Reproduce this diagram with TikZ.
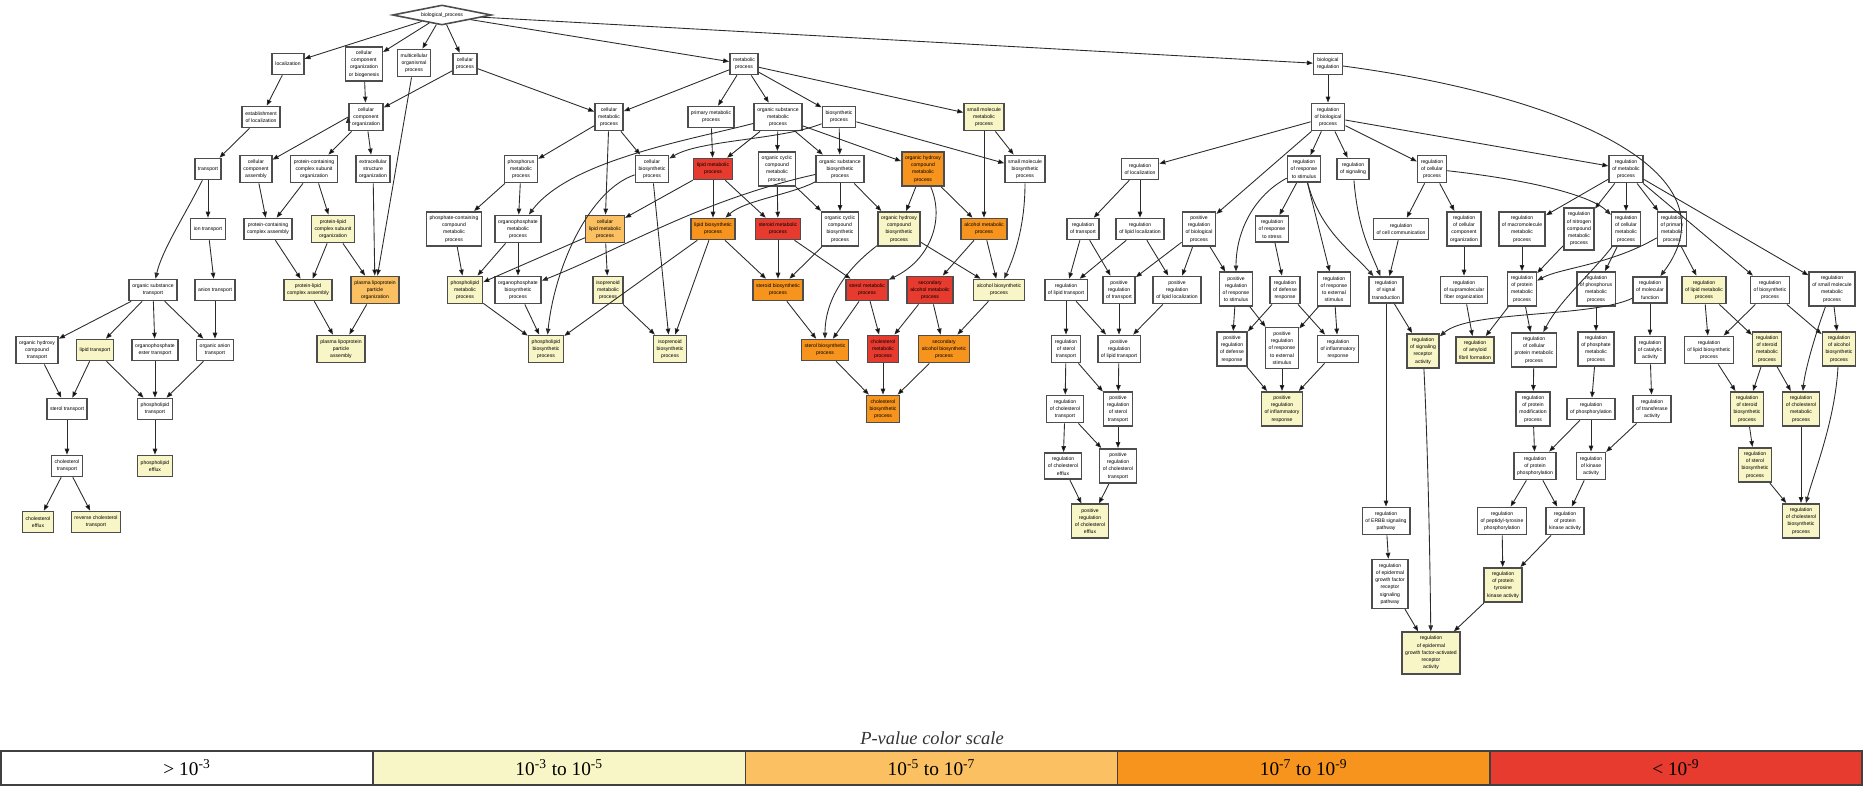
\documentclass[tikz,border=0pt]{standalone}
\usepackage{fontspec}
\usepackage{tikz}
\usetikzlibrary{arrows.meta, shapes.geometric}
\newfontfamily\gofont{Liberation Sans}
\newfontfamily\legfont{Liberation Serif}
\definecolor{boxline}{HTML}{4D4D4D}
\definecolor{arcline}{HTML}{2B2B2B}
\definecolor{cthree}{HTML}{F8F5C6}
\definecolor{cfive}{HTML}{FBC062}
\definecolor{cseven}{HTML}{F7941E}
\definecolor{cnine}{HTML}{E63B2E}

\begin{document}
\begin{tikzpicture}[x=0.02cm, y=-0.02cm, >={Triangle[length=3.4pt, width=2.6pt]},
  goterm/.style={draw=boxline, line width=0.9pt, fill=white, align=center, font=\gofont\fontsize{2.9}{4.1}\selectfont, inner xsep=1.8pt, inner ysep=2.3pt, minimum height=0.42cm},
  rootterm/.style={goterm, diamond, aspect=5, inner sep=0pt, minimum width=1.98cm, minimum height=0.4cm},
  pthree/.style={goterm, fill=cthree},
  pfive/.style={goterm, fill=cfive},
  pseven/.style={goterm, fill=cseven},
  pnine/.style={goterm, fill=cnine},
  isa/.style={->, draw=arcline, line width=0.5pt},
  legcell/.style={draw=black!75, line width=0.8pt, inner sep=0pt, minimum width=7.444cm, minimum height=0.68cm, font=\legfont\fontsize{11}{13}\selectfont}]
  \useasboundingbox (0,0) rectangle (1863,787);

  \node[rootterm] (bp) at (442,15) {biological\_process};

  \node[goterm] (loc) at (288,64) {localization};
  \node[goterm] (ccob) at (364,64) {cellular\\component\\organization\\or biogenesis};
  \node[goterm] (mop) at (414,63) {multicellular\\organismal\\process};
  \node[goterm] (cp) at (465,64) {cellular\\process};
  \node[goterm] (estloc) at (261,117) {establishment\\of localization};
  \node[goterm] (cco) at (366,117) {cellular\\component\\organization};
  \node[goterm] (transp) at (208,169) {transport};
  \node[goterm] (cca) at (256,169) {cellular\\component\\assembly};
  \node[goterm] (pcso) at (314,169) {protein-containing\\complex subunit\\organization};
  \node[goterm] (eso) at (373,169) {extracellular\\structure\\organization};
  \node[goterm] (iont) at (208,229) {ion transport};
  \node[goterm] (pcca) at (268,229) {protein-containing\\complex assembly};
  \node[pthree] (plcso) at (333,229) {protein-lipid\\complex subunit\\organization};
  \node[goterm] (ost) at (153,290) {organic substance\\transport};
  \node[goterm] (aniont) at (215,290) {anion transport};
  \node[pthree] (plca) at (308,290) {protein-lipid\\complex assembly};
  \node[pfive] (plpo) at (375,290) {plasma lipoprotein\\particle\\organization};
  \node[goterm] (ohct) at (37,350) {organic hydroxy\\compound\\transport};
  \node[pthree] (lipt) at (95,350) {lipid transport};
  \node[goterm] (opet) at (155,350) {organophosphate\\ester transport};
  \node[goterm] (oat) at (215,350) {organic anion\\transport};
  \node[pthree] (plpa) at (341,349) {plasma lipoprotein\\particle\\assembly};
  \node[goterm] (stt) at (67,409) {sterol transport};
  \node[goterm] (plt) at (155,409) {phospholipid\\transport};
  \node[goterm] (cht) at (67,466) {cholesterol\\transport};
  \node[pthree] (ple) at (155,466) {phospholipid\\efflux};
  \node[pthree] (che) at (38,522) {cholesterol\\efflux};
  \node[pthree] (rct) at (96,522) {reverse cholesterol\\transport};

  \node[goterm] (cmp) at (609,117) {cellular\\metabolic\\process};
  \node[goterm] (phmp) at (521,169) {phosphorus\\metabolic\\process};
  \node[goterm] (pccmp) at (454,229) {phosphate-containing\\compound\\metabolic\\process};
  \node[goterm] (opmp) at (518,229) {organophosphate\\metabolic\\process};
  \node[pfive] (clmp) at (605,229) {cellular\\lipid metabolic\\process};
  \node[pthree] (plmp) at (465,290) {phospholipid\\metabolic\\process};
  \node[goterm] (opbp) at (518,290) {organophosphate\\biosynthetic\\process};
  \node[pthree] (ismp) at (608,290) {isoprenoid\\metabolic\\process};
  \node[pthree] (plbp) at (546,349) {phospholipid\\biosynthetic\\process};
  \node[goterm] (mp) at (744,64) {metabolic\\process};
  \node[goterm] (pmp) at (711,117) {primary metabolic\\process};
  \node[goterm] (osmp) at (778,117) {organic substance\\metabolic\\process};
  \node[goterm] (bsp) at (839,117) {biosynthetic\\process};
  \node[goterm] (cbp) at (652,169) {cellular\\biosynthetic\\process};
  \node[pnine] (lmp) at (713,169) {lipid metabolic\\process};
  \node[goterm] (occmp) at (777,169) {organic cyclic\\compound\\metabolic\\process};
  \node[goterm] (osbp) at (840,169) {organic substance\\biosynthetic\\process};
  \node[pseven] (ohcmp) at (923,169) {organic hydroxy\\compound\\metabolic\\process};
  \node[pseven] (lbp) at (713,229) {lipid biosynthetic\\process};
  \node[pnine] (stmp) at (778,229) {steroid metabolic\\process};
  \node[goterm] (occbp) at (840,229) {organic cyclic\\compound\\biosynthetic\\process};
  \node[pthree] (ohcbp) at (899,229) {organic hydroxy\\compound\\biosynthetic\\process};
  \node[pseven] (stbp) at (778,290) {steroid biosynthetic\\process};
  \node[pnine] (slmp) at (867,290) {sterol metabolic\\process};
  \node[pnine] (samp) at (930,290) {secondary\\alcohol metabolic\\process};
  \node[pthree] (isbp) at (670,349) {isoprenoid\\biosynthetic\\process};
  \node[pseven] (slbp) at (825,350) {sterol biosynthetic\\process};
  \node[pnine] (chmp) at (883,349) {cholesterol\\metabolic\\process};
  \node[pseven] (sabp) at (944,349) {secondary\\alcohol biosynthetic\\process};
  \node[pseven] (chbp) at (883,409) {cholesterol\\biosynthetic\\process};
  \node[pthree] (smmp) at (984,117) {small molecule\\metabolic\\process};
  \node[goterm] (smbp) at (1025,169) {small molecule\\biosynthetic\\process};
  \node[pseven] (amp) at (984,229) {alcohol metabolic\\process};
  \node[pthree] (abp) at (999,290) {alcohol biosynthetic\\process};

  \node[goterm] (br) at (1328,64) {biological\\regulation};
  \node[goterm] (rbp) at (1328,117) {regulation\\of biological\\process};
  \node[goterm] (rloc) at (1140,169) {regulation\\of localization};
  \node[goterm] (rtr) at (1083,229) {regulation\\of transport};
  \node[goterm] (rlloc) at (1140,229) {regulation\\of lipid localization};
  \node[goterm] (prbp) at (1199,229) {positive\\regulation\\of biological\\process};
  \node[goterm] (rlt) at (1066,290) {regulation\\of lipid transport};
  \node[goterm] (prt) at (1119,290) {positive\\regulation\\of transport};
  \node[goterm] (prlloc) at (1177,290) {positive\\regulation\\of lipid localization};
  \node[goterm] (prrs) at (1236,289) {positive\\regulation\\of response\\to stimulus};
  \node[goterm] (rstt) at (1066,349) {regulation\\of sterol\\transport};
  \node[goterm] (prlt) at (1119,349) {positive\\regulation\\of lipid transport};
  \node[goterm] (prdr) at (1232,349) {positive\\regulation\\of defense\\response};
  \node[goterm] (rcht) at (1065,409) {regulation\\of cholesterol\\transport};
  \node[goterm] (prstt) at (1118,409) {positive\\regulation\\of sterol\\transport};
  \node[goterm] (rche) at (1063,466) {regulation\\of cholesterol\\efflux};
  \node[goterm] (prcht) at (1118,466) {positive\\regulation\\of cholesterol\\transport};
  \node[pthree] (prche) at (1090,521) {positive\\regulation\\of cholesterol\\efflux};
  \node[goterm] (rrs) at (1304,169) {regulation\\of response\\to stimulus};
  \node[goterm] (rsig) at (1353,169) {regulation\\of signaling};
  \node[goterm] (rcp) at (1432,169) {regulation\\of cellular\\process};
  \node[goterm] (rmp) at (1626,169) {regulation\\of metabolic\\process};
  \node[goterm] (rrstress) at (1272,229) {regulation\\of response\\to stress};
  \node[goterm] (rcc) at (1401,229) {regulation\\of cell communication};
  \node[goterm] (rcco) at (1464,229) {regulation\\of cellular\\component\\organization};
  \node[goterm] (rmmp) at (1522,229) {regulation\\of macromolecule\\metabolic\\process};
  \node[goterm] (rncmp) at (1579,229) {regulation\\of nitrogen\\compound\\metabolic\\process};
  \node[goterm] (rcmp) at (1626,229) {regulation\\of cellular\\metabolic\\process};
  \node[goterm] (rpmp) at (1672,229) {regulation\\of primary\\metabolic\\process};
  \node[goterm] (rdr) at (1285,290) {regulation\\of defense\\response};
  \node[goterm] (rres) at (1334,289) {regulation\\of response\\to external\\stimulus};
  \node[goterm] (rst) at (1386,290) {regulation\\of signal\\transduction};
  \node[goterm] (rsfo) at (1464,290) {regulation\\of supramolecular\\fiber organization};
  \node[goterm] (rprmp) at (1522,289) {regulation\\of protein\\metabolic\\process};
  \node[goterm] (rphmp) at (1596,289) {regulation\\of phosphorus\\metabolic\\process};
  \node[goterm] (rmf) at (1650,290) {regulation\\of molecular\\function};
  \node[pthree] (rlmp) at (1704,290) {regulation\\of lipid metabolic\\process};
  \node[goterm] (rbsp) at (1770,290) {regulation\\of biosynthetic\\process};
  \node[goterm] (rsmmp) at (1832,289) {regulation\\of small molecule\\metabolic\\process};
  \node[goterm] (prres) at (1282,348) {positive\\regulation\\of response\\to external\\stimulus};
  \node[goterm] (rir) at (1338,349) {regulation\\of inflammatory\\response};
  \node[pthree] (rsra) at (1423,351) {regulation\\of signaling\\receptor\\activity};
  \node[pthree] (raff) at (1475,350) {regulation\\of amyloid\\fibril formation};
  \node[goterm] (rcpmp) at (1534,350) {regulation\\of cellular\\protein metabolic\\process};
  \node[goterm] (rphtmp) at (1596,349) {regulation\\of phosphate\\metabolic\\process};
  \node[goterm] (rca) at (1650,350) {regulation\\of catalytic\\activity};
  \node[goterm] (rlbp) at (1709,350) {regulation\\of lipid biosynthetic\\process};
  \node[pthree] (rsmp) at (1767,349) {regulation\\of steroid\\metabolic\\process};
  \node[pthree] (rabp) at (1839,349) {regulation\\of alcohol\\biosynthetic\\process};
  \node[pthree] (prir) at (1282,409) {positive\\regulation\\of inflammatory\\response};
  \node[goterm] (rpmod) at (1533,409) {regulation\\of protein\\modification\\process};
  \node[goterm] (rphos) at (1591,409) {regulation\\of phosphorylation};
  \node[goterm] (rta) at (1652,409) {regulation\\of transferase\\activity};
  \node[pthree] (rsbp) at (1747,409) {regulation\\of steroid\\biosynthetic\\process};
  \node[pthree] (rchmp) at (1801,409) {regulation\\of cholesterol\\metabolic\\process};
  \node[goterm] (rpphos) at (1535,466) {regulation\\of protein\\phosphorylation};
  \node[goterm] (rka) at (1591,466) {regulation\\of kinase\\activity};
  \node[pthree] (rslbp) at (1755,465) {regulation\\of sterol\\biosynthetic\\process};
  \node[goterm] (rerbb) at (1386,521) {regulation\\of ERBB signaling\\pathway};
  \node[goterm] (rptp) at (1502,521) {regulation\\of peptidyl-tyrosine\\phosphorylation};
  \node[goterm] (rpka) at (1565,521) {regulation\\of protein\\kinase activity};
  \node[pthree] (rchbp) at (1801,521) {regulation\\of cholesterol\\biosynthetic\\process};
  \node[goterm] (regfr) at (1390,584) {regulation\\of epidermal\\growth factor\\receptor\\signaling\\pathway};
  \node[pthree] (rptka) at (1503,585) {regulation\\of protein\\tyrosine\\kinase activity};
  \node[pthree] (regfa) at (1431,653) {regulation\\of epidermal\\growth factor-activated\\receptor\\activity};

  \draw[isa] (bp) edge (loc) edge (ccob) edge (mop) edge (cp) edge (mp) edge (br);
  \draw[isa] (loc) edge (estloc);
  \draw[isa] (estloc) edge (transp);
  \draw[isa] (transp) edge (iont);
  \draw[isa] (transp) .. controls (185,215) and (162,250) .. (ost);
  \draw[isa] (iont) edge (aniont);
  \draw[isa] (ost) edge (ohct) edge (lipt) edge (opet) edge (oat);
  \draw[isa] (aniont) edge (oat);
  \draw[isa] (ohct) edge (stt);
  \draw[isa] (lipt) edge (stt) edge (plt);
  \draw[isa] (opet) edge (plt);
  \draw[isa] (oat) edge (plt);
  \draw[isa] (stt) edge (cht);
  \draw[isa] (plt) edge (ple);
  \draw[isa] (cht) edge (che) edge (rct);
  \draw[isa] (ccob) edge (cco);
  \draw[isa] (cp) edge (cco) edge (cmp);
  \draw[isa] (cco.west) edge (cca);
  \draw[isa] (cco) edge (pcso) edge (eso);
  \draw[isa] (cca) edge (pcca);
  \draw[isa] (pcso) edge (pcca) edge (plcso);
  \draw[isa] (pcca) edge (plca);
  \draw[isa] (plcso) edge (plca) edge (plpo);
  \draw[isa] (eso) edge (plpo);
  \draw[isa] (mop) edge (plpo);
  \draw[isa] (plca) edge (plpa);
  \draw[isa] (plpo) edge (plpa);

  \draw[isa] (mp) edge (cmp) edge (pmp) edge (osmp) edge (bsp) edge (smmp);
  \draw[isa] (cmp) edge (phmp) edge (clmp) edge (cbp);
  \draw[isa] (phmp) edge (pccmp) edge (opmp);
  \draw[isa] (pccmp) edge (plmp);
  \draw[isa] (opmp) edge (plmp) edge (opbp);
  \draw[isa] (clmp) edge (plmp) edge (ismp);
  \draw[isa] (plmp) edge (plbp);
  \draw[isa] (opbp) edge (plbp);
  \draw[isa] (ismp) edge (isbp);
  \draw[isa] (osmp) .. controls (690,140) and (570,160) .. (opmp);
  \draw[isa] (osbp) .. controls (700,200) and (620,250) .. (opbp);
  \draw[isa] (cbp) .. controls (590,190) and (555,265) .. (plbp);
  \draw[isa] (lbp) edge (plbp) edge (isbp);
  \draw[isa] (cbp) edge (isbp);
  \draw[isa] (pmp) edge (lmp);
  \draw[isa] (osmp) edge (lmp) edge (occmp) edge (osbp) edge (ohcmp);
  \draw[isa] (bsp) edge (osbp) edge (smbp);
  \draw[isa] (bsp) .. controls (780,140) and (700,140) .. (cbp);
  \draw[isa] (lmp) edge (clmp) edge (lbp) edge (stmp);
  \draw[isa] (occmp) edge (stmp) edge (occbp);
  \draw[isa] (osbp) .. controls (790,195) and (745,200) .. (lbp);
  \draw[isa] (osbp) edge (occbp) edge (ohcbp);
  \draw[isa] (ohcmp) edge (ohcbp) edge (amp);
  \draw[isa] (ohcmp) .. controls (945,220) and (930,260) .. (slmp);
  \draw[isa] (lbp) edge (stbp);
  \draw[isa] (stmp) edge (stbp) edge (slmp);
  \draw[isa] (occbp) edge (stbp);
  \draw[isa] (ohcbp) .. controls (845,270) and (825,300) .. (slbp);
  \draw[isa] (ohcbp) edge (abp);
  \draw[isa] (stbp) edge (slbp);
  \draw[isa] (slmp) edge (slbp) edge (chmp);
  \draw[isa] (samp) edge (chmp) edge (sabp);
  \draw[isa] (amp) edge (samp) edge (abp);
  \draw[isa] (smmp) edge (smbp) edge (amp);
  \draw[isa] (smbp) .. controls (1025,225) and (1015,255) .. (abp);
  \draw[isa] (abp) edge (sabp);
  \draw[isa] (slbp) edge (chbp);
  \draw[isa] (chmp) edge (chbp);
  \draw[isa] (sabp) edge (chbp);

  \draw[isa] (br) edge (rbp);
  \draw[isa] (br) .. controls (1560,95) and (1740,170) .. (rmf);
  \draw[isa] (rbp) edge (rloc) edge (prbp) edge (rrs) edge (rsig) edge (rcp) edge (rmp);
  \draw[isa] (rloc) edge (rtr) edge (rlloc);
  \draw[isa] (rtr) edge (rlt) edge (prt);
  \draw[isa] (rlloc) edge (rlt) edge (prlloc);
  \draw[isa] (prbp) edge (prt) edge (prlloc) edge (prrs);
  \draw[isa] (rrs) .. controls (1255,195) and (1236,230) .. (prrs);
  \draw[isa] (rrs) edge (rrstress) edge (rres);
  \draw[isa] (rrs) .. controls (1320,230) and (1350,250) .. (rst);
  \draw[isa] (rlt) edge (rstt) edge (prlt);
  \draw[isa] (prt) edge (prlt);
  \draw[isa] (prlloc) edge (prlt);
  \draw[isa] (rstt) edge (rcht) edge (prstt);
  \draw[isa] (prlt) edge (prstt);
  \draw[isa] (rcht) edge (rche) edge (prcht);
  \draw[isa] (prstt) edge (prcht);
  \draw[isa] (rche) edge (prche);
  \draw[isa] (prcht) edge (prche);
  \draw[isa] (prrs) edge (prdr) edge (prres);
  \draw[isa] (rrstress) edge (rdr);
  \draw[isa] (rdr) edge (prdr) edge (rir);
  \draw[isa] (rres) edge (prres) edge (rir);
  \draw[isa] (prdr) edge (prir);
  \draw[isa] (prres) edge (prir);
  \draw[isa] (rir) edge (prir);
  \draw[isa] (rsig) .. controls (1358,230) and (1370,250) .. (rst);
  \draw[isa] (rcp) edge (rcc) edge (rcco);
  \draw[isa] (rcp) .. controls (1530,180) and (1590,195) .. (rcmp);
  \draw[isa] (rcc) edge (rst);
  \draw[isa] (rst) edge (rsra) edge (rerbb);
  \draw[isa] (rcco) edge (rsfo);
  \draw[isa] (rsfo) edge (raff);
  \draw[isa] (rmp) edge (rmmp) edge (rncmp) edge (rcmp) edge (rpmp) edge (rbsp) edge (rsmmp);
  \draw[isa] (rmmp) edge (rprmp);
  \draw[isa] (rncmp) edge (rprmp);
  \draw[isa] (rpmp) .. controls (1610,265) and (1560,268) .. (rprmp);
  \draw[isa] (rpmp) edge (rlmp);
  \draw[isa] (rcmp) edge (rphmp);
  \draw[isa] (rcmp) .. controls (1590,275) and (1560,300) .. (rcpmp);
  \draw[isa] (rprmp) edge (raff) edge (rcpmp);
  \draw[isa] (rmf) .. controls (1590,318) and (1470,310) .. (rsra);
  \draw[isa] (rmf) edge (rca);
  \draw[isa] (rphmp) edge (rphtmp);
  \draw[isa] (rlmp) edge (rlbp) edge (rsmp);
  \draw[isa] (rbsp) edge (rlbp) edge (rabp);
  \draw[isa] (rsmmp) edge (rabp);
  \draw[isa] (rsmmp) .. controls (1815,335) and (1805,370) .. (rchmp);
  \draw[isa] (rcpmp) edge (rpmod);
  \draw[isa] (rpmod) edge (rpphos);
  \draw[isa] (rphtmp) edge (rphos);
  \draw[isa] (rca) edge (rta);
  \draw[isa] (rphos) edge (rpphos) edge (rka);
  \draw[isa] (rta) edge (rka);
  \draw[isa] (rpphos) edge (rptp) edge (rpka);
  \draw[isa] (rka) edge (rpka);
  \draw[isa] (rsmp) edge (rsbp) edge (rchmp);
  \draw[isa] (rlbp) edge (rsbp);
  \draw[isa] (rsbp) edge (rslbp);
  \draw[isa] (rslbp) edge (rchbp);
  \draw[isa] (rchmp) edge (rchbp);
  \draw[isa] (rabp) .. controls (1835,420) and (1815,470) .. (rchbp);
  \draw[isa] (rsra) .. controls (1428,450) and (1430,560) .. (regfa);
  \draw[isa] (rerbb) edge (regfr);
  \draw[isa] (regfr) edge (regfa);
  \draw[isa] (rptp) edge (rptka);
  \draw[isa] (rpka) edge (rptka);
  \draw[isa] (rptka) edge (regfa);

  \node[font=\legfont\itshape\fontsize{10.5}{12}\selectfont, text=black!80] (scaletitle) at (932,738) {P-value color scale};
  \node[legcell, fill=white] (leg1) at (187.1,768) {> 10\textsuperscript{-3}};
  \node[legcell, fill=cthree] (leg2) at (559.3,768) {10\textsuperscript{-3} to 10\textsuperscript{-5}};
  \node[legcell, fill=cfive] (leg3) at (931.5,768) {10\textsuperscript{-5} to 10\textsuperscript{-7}};
  \node[legcell, fill=cseven] (leg4) at (1303.7,768) {10\textsuperscript{-7} to 10\textsuperscript{-9}};
  \node[legcell, fill=cnine] (leg5) at (1675.9,768) {< 10\textsuperscript{-9}};
\end{tikzpicture}
\end{document}
